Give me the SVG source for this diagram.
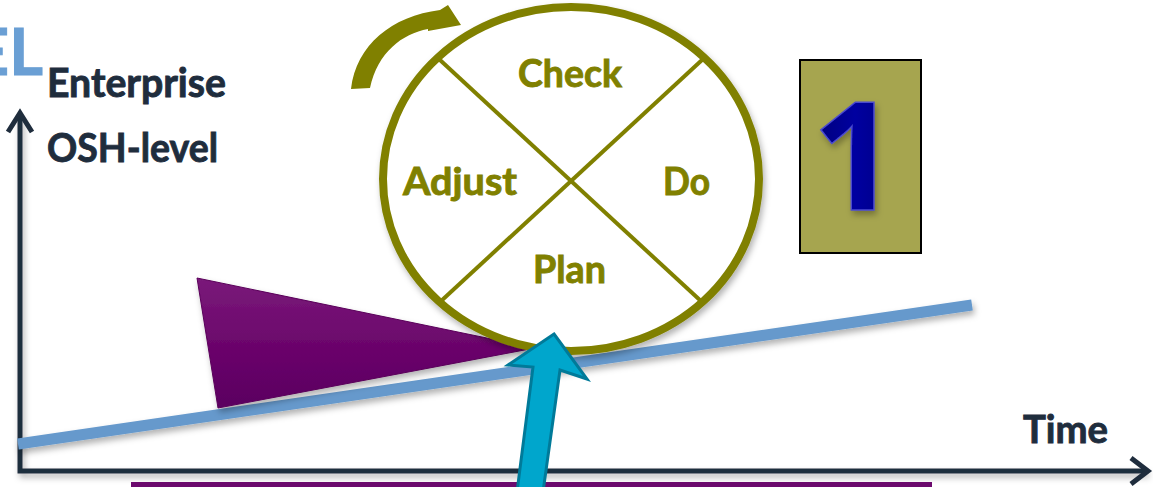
<svg xmlns="http://www.w3.org/2000/svg" width="1153" height="487" viewBox="0 0 1153 487">
  <style>
    .dark { font-family: Lato, "Open Sans", "Liberation Sans", sans-serif; font-weight: bold; fill: #1f2d3d; stroke: #1f2d3d; stroke-width: 0.9; }
    .olive { font-family: Lato, "Open Sans", "Liberation Sans", sans-serif; font-weight: bold; fill: #808000; stroke: #808000; stroke-width: 0.9; }
    .axis { fill: none; stroke: #1f2d3d; stroke-width: 5; stroke-linecap: butt; stroke-linejoin: miter; }
  </style>
  <defs>
    <filter id="shadow" x="-20%" y="-20%" width="140%" height="150%">
      <feDropShadow dx="2" dy="4" stdDeviation="3" flood-color="#000" flood-opacity="0.3"/>
    </filter>
    <linearGradient id="purpleGrad" x1="0" y1="0" x2="0" y2="1">
      <stop offset="0" stop-color="#7a1a7a"/>
      <stop offset="0.5" stop-color="#6c066c"/>
      <stop offset="1" stop-color="#5a0060"/>
    </linearGradient>
    <linearGradient id="oneGrad" x1="0" y1="0" x2="1" y2="0">
      <stop offset="0" stop-color="#00007a"/>
      <stop offset="0.5" stop-color="#0000a0"/>
      <stop offset="1" stop-color="#000080"/>
    </linearGradient>
  </defs>

  <g id="axes">
    <polyline class="axis" points="20,116 20,471 1147,471" filter="url(#shadow)"/>
    <polyline class="axis" points="8,132 20,113 32,132"/>
    <polyline class="axis" points="1131,458 1148,471 1131,484"/>
  </g>

  <g id="title-fragment">
    <text x="43" y="75" font-family="Lato, 'Open Sans', sans-serif" font-weight="bold" font-size="65" fill="#6a9fd4" stroke="#6a9fd4" stroke-width="1" text-anchor="end">EL</text>
  </g>

  <g id="axis-labels">
    <text class="dark" x="47" y="97" font-size="40" textLength="179" lengthAdjust="spacingAndGlyphs">Enterprise</text>
    <text class="dark" x="47" y="162" font-size="40" textLength="171" lengthAdjust="spacingAndGlyphs">OSH-level</text>
    <text class="dark" x="1023" y="443" font-size="39" textLength="85" lengthAdjust="spacingAndGlyphs">Time</text>
  </g>

  <g id="bottom-bar">
    <rect x="131" y="482" width="801" height="8" fill="#6c0a6e"/>
  </g>

  <g id="connectors">
    <line x1="18" y1="444" x2="972" y2="305" stroke="#6699cc" stroke-width="11" filter="url(#shadow)"/>
  </g>

  <g id="wedge">
    <polygon points="197,278 218,408 535,348" fill="url(#purpleGrad)" stroke="#5a005a" stroke-width="1" filter="url(#shadow)"/>
  </g>

  <g id="pdca-cycle">
    <ellipse cx="571" cy="179" rx="188" ry="172" fill="#ffffff" stroke="#808000" stroke-width="8" filter="url(#shadow)"/>
    <line x1="440" y1="60" x2="702" y2="302" stroke="#808000" stroke-width="4"/>
    <line x1="702" y1="60" x2="440" y2="302" stroke="#808000" stroke-width="4"/>
    <text class="olive" x="518" y="87" font-size="38" textLength="104" lengthAdjust="spacingAndGlyphs">Check</text>
    <text class="olive" x="403" y="195" font-size="38" textLength="114" lengthAdjust="spacingAndGlyphs">Adjust</text>
    <text class="olive" x="663" y="195" font-size="38" textLength="47" lengthAdjust="spacingAndGlyphs">Do</text>
    <text class="olive" x="533" y="283" font-size="38" textLength="73" lengthAdjust="spacingAndGlyphs">Plan</text>
  </g>

  <g id="rotation-arrow">
    <path d="M351,89 C356,45 392,16 440,10 L448,5 L461,25 L428,31 L428,29 C402,34 378,52 370,88 Z" fill="#808000"/>
  </g>

  <g id="input-arrow">
    <polygon points="554,334 587,379 560,370 543,492 517,492 533,367 508,365" fill="#00a6cc" stroke="#007a99" stroke-width="3" stroke-linejoin="miter"/>
  </g>

  <g id="step-box">
    <rect x="800" y="60" width="121" height="193" fill="#a6a54f" stroke="#000" stroke-width="2"/>
    <text x="855" y="210" font-family="'Open Sans', sans-serif" font-weight="bold" font-size="150" text-anchor="middle" fill="url(#oneGrad)" stroke="#4a4ad0" stroke-width="1.5" filter="url(#shadow)">1</text>
  </g>
</svg>
